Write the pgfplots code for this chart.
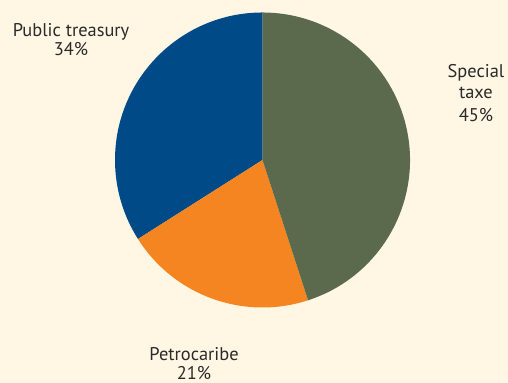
\documentclass[border=0pt]{standalone}
\usepackage{pgfplots}
\pgfplotsset{compat=1.18}
\usepackage{fontspec}
\setmainfont{PT Sans}
\definecolor{bgc}{HTML}{FFF7E4}
\definecolor{pgreen}{HTML}{5B6A4C}
\definecolor{porange}{HTML}{F58521}
\definecolor{pblue}{HTML}{004B87}
\definecolor{txt}{HTML}{2A2A2A}
% shares in percent
\def\vPublic{34}
\def\vPetro{21}
\def\vSpecial{45}
\pgfmathsetmacro{\aA}{90}
\pgfmathsetmacro{\aB}{90+3.6*\vPublic}
\pgfmathsetmacro{\aC}{\aB+3.6*\vPetro}
\pgfmathsetmacro{\aD}{\aC+3.6*\vSpecial}
\tikzset{lbl/.style={font=\fontsize{9.2}{11}\selectfont, text=txt, inner sep=0pt, anchor=base}}
\begin{document}
\begin{tikzpicture}
\begin{axis}[
  hide axis, scale only axis,
  width=254pt, height=191.5pt,
  xmin=-1.7797, xmax=1.6644, ymin=-1.5119, ymax=1.0847,
  clip=false,
]
\fill[bgc] (axis cs:-1.7797,-1.5119) rectangle (axis cs:1.6644,1.0847);
\fill[pblue] (axis cs:0,0) -- (axis cs:{cos(\aA)},{sin(\aA)}) arc[start angle=\aA, end angle=\aB, radius=1] -- cycle;
\fill[porange] (axis cs:0,0) -- (axis cs:{cos(\aB)},{sin(\aB)}) arc[start angle=\aB, end angle=\aC, radius=1] -- cycle;
\fill[pgreen] (axis cs:0,0) -- (axis cs:{cos(\aC)},{sin(\aC)}) arc[start angle=\aC, end angle=\aD, radius=1] -- cycle;
\node[lbl] at (axis cs:-1.298,0.836) {Public treasury};
\node[lbl] at (axis cs:-1.298,0.707) {\vPublic\%};
\node[lbl] at (axis cs:1.447,0.558) {Special};
\node[lbl] at (axis cs:1.447,0.414) {taxe};
\node[lbl] at (axis cs:1.447,0.264) {\vSpecial\%};
\node[lbl] at (axis cs:-0.464,-1.359) {Petrocaribe};
\node[lbl] at (axis cs:-0.464,-1.4915) {\vPetro\%};
\end{axis}
\pgfresetboundingbox
\path[use as bounding box] (current axis.south west) rectangle (current axis.north east);
\end{tikzpicture}
\end{document}
